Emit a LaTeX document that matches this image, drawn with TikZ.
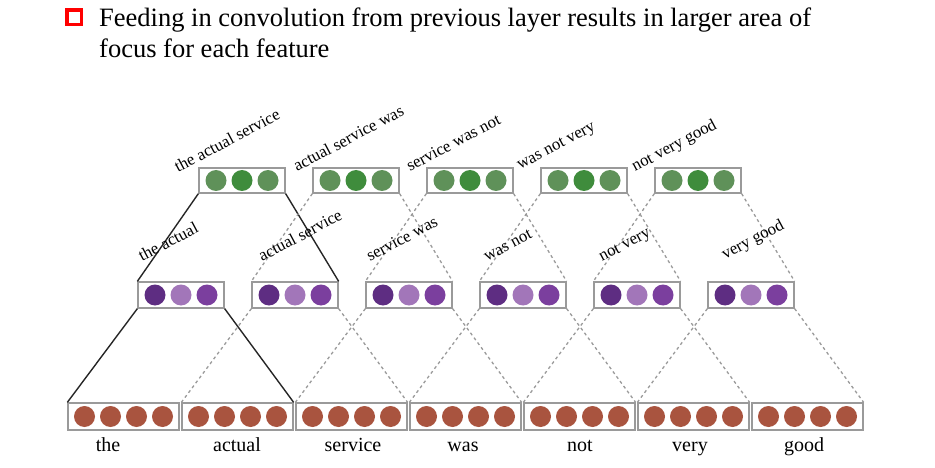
\documentclass[tikz,border=0pt]{standalone}
\usepackage{fontspec}
\setmainfont{Liberation Serif}
\usetikzlibrary{positioning}

\definecolor{boxgray}{HTML}{9A9A9A}
\definecolor{greenout}{HTML}{5F9159}
\definecolor{greenmid}{HTML}{3F8C3C}
\definecolor{purpdark}{HTML}{5E2D82}
\definecolor{purplight}{HTML}{A276B9}
\definecolor{purpmid}{HTML}{7B3F9E}
\definecolor{brick}{HTML}{A9543F}

\tikzset{
  vecbox/.style={draw=boxgray, line width=1.3pt, fill=white, inner sep=0pt},
  span/.style={black!85, line width=1.4pt},
  spandash/.style={boxgray, line width=1.3pt, dash pattern=on 3pt off 3pt},
  ngram/.style={rotate=28, anchor=base west, inner sep=0pt, font=\fontsize{16.8}{16.8}\selectfont},
  word/.style={anchor=base, inner sep=0pt, font=\fontsize{20}{20}\selectfont},
  heading/.style={anchor=base west, inner sep=0pt, font=\fontsize{26.5}{31}\selectfont}
}

\begin{document}
\begin{tikzpicture}[x=1pt, y=-1pt]
  \useasboundingbox (0,0) rectangle (935,468);

  % ── heading ──────────────────────────────────────────────────────────────
  \node[draw=red, line width=3.5pt, minimum size=14.5pt, inner sep=0pt] (bullet) at (74,17.5) {};
  \node[heading] (title) at (99,27)
    {Feeding in convolution from previous layer results in larger area of};
  \node[heading] (title2) at (99,58) {focus for each feature};

  % ── boxes: words, bigrams, trigrams ─────────────────────────────────────
  \foreach \i in {1,...,7}{
    \node[vecbox, minimum width=111pt, minimum height=27pt] (w\i) at ({123.5+114*(\i-1)},416.5) {};
    \foreach \k in {0,...,3}
      \fill[brick] ({123.5+114*(\i-1)-39+26*\k},416.5) circle (10.5pt);
  }
  \foreach \i in {1,...,6}{
    \node[vecbox, minimum width=86pt, minimum height=26pt] (m\i) at ({181+114*(\i-1)},295) {};
    \fill[purpdark]  ({181+114*(\i-1)-26},295) circle (10.5pt);
    \fill[purplight] ({181+114*(\i-1)},295)    circle (10.5pt);
    \fill[purpmid]   ({181+114*(\i-1)+26},295) circle (10.5pt);
  }
  \foreach \i in {1,...,5}{
    \node[vecbox, minimum width=86pt, minimum height=25pt] (t\i) at ({242+114*(\i-1)},180.5) {};
    \fill[greenout] ({242+114*(\i-1)-26},180.5) circle (10.5pt);
    \fill[greenmid] ({242+114*(\i-1)},180.5)    circle (10.5pt);
    \fill[greenout] ({242+114*(\i-1)+26},180.5) circle (10.5pt);
  }

  % ── receptive fields ─────────────────────────────────────────────────────
  \draw[span] (m1.south west) -- (w1.north west);
  \draw[span] (m1.south east) -- (w2.north east);
  \foreach \i [evaluate=\i as \j using int(\i+1)] in {2,...,6}{
    \draw[spandash] (m\i.south west) -- (w\i.north west);
    \draw[spandash] (m\i.south east) -- (w\j.north east);
  }
  \draw[span] (t1.south west) -- (m1.north west);
  \draw[span] (t1.south east) -- (m2.north east);
  \foreach \i [evaluate=\i as \j using int(\i+1)] in {2,...,5}{
    \draw[spandash] (t\i.south west) -- (m\i.north west);
    \draw[spandash] (t\i.south east) -- (m\j.north east);
  }

  % ── labels ───────────────────────────────────────────────────────────────
  \foreach \w/\x [count=\i] in {the/108, actual/237, service/353, was/463,
                                not/580, very/690, good/804}
    \node[word] (lw\i) at (\x,451) {\w};

  \foreach \g/\x/\y [count=\i] in {the actual/142/262, actual service/262/262,
      service was/370/262, was not/487/262, not very/602/262, very good/725/260}
    \node[ngram] (lm\i) at (\x,\y) {\g};

  \foreach \g/\x/\y [count=\i] in {the actual service/178/173,
      actual service was/297/172, service was not/410/172,
      was not very/520/170, not very good/635/172}
    \node[ngram] (lt\i) at (\x,\y) {\g};

\end{tikzpicture}
\end{document}
